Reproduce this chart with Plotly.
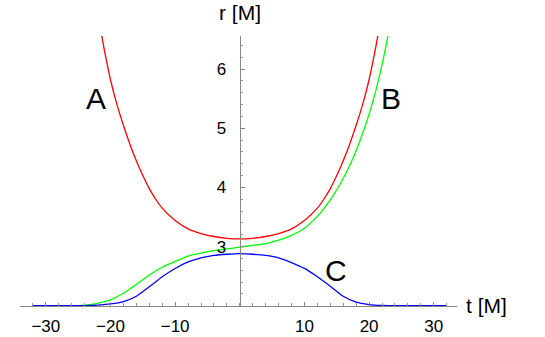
import plotly.graph_objects as go

# values
t_a = [-22, -21, -20, -19, -18, -17, -16, -15, -14, -13, -12, -10, -8, -6, -4, -2, 0,
       2, 4, 6, 8, 10, 12, 13, 14, 15, 16, 17, 18, 19, 20, 21, 22]
r_a = [6.95, 6.35, 5.82, 5.40, 5.05, 4.73, 4.45, 4.20, 3.98, 3.80, 3.65, 3.44, 3.30, 3.22, 3.17, 3.14, 3.13,
       3.14, 3.17, 3.22, 3.30, 3.44, 3.65, 3.80, 3.98, 4.20, 4.45, 4.73, 5.05, 5.40, 5.82, 6.35, 6.95]

t_b = [-32, -28, -26, -24, -22, -20, -18, -16, -14, -12, -10, -8, -6, -4, -2, 0,
       2, 4, 6, 8, 10, 12, 13, 14, 15, 16, 17, 18, 19, 20, 21, 22, 23]
r_b = [2.0, 2.0, 2.0, 2.01, 2.04, 2.10, 2.21, 2.36, 2.52, 2.65, 2.75, 2.84, 2.89, 2.93, 2.96, 2.99,
       3.02, 3.05, 3.11, 3.19, 3.31, 3.51, 3.64, 3.79, 3.96, 4.15, 4.37, 4.62, 4.91, 5.24, 5.62, 6.07, 6.60]

t_c = [-32, -28, -24, -22, -20, -18, -16, -14, -12, -10, -8, -6, -4, -2, 0,
       2, 4, 6, 8, 10, 12, 14, 16, 18, 20, 22, 24, 28, 32]
r_c = [2.0, 2.0, 2.0, 2.01, 2.03, 2.07, 2.16, 2.32, 2.49, 2.63, 2.74, 2.81, 2.85, 2.87, 2.88,
       2.87, 2.85, 2.81, 2.73, 2.63, 2.49, 2.33, 2.16, 2.06, 2.02, 2.005, 2.0, 2.0, 2.0]

x_ticks = [-30, -20, -10, 10, 20, 30]
x_labels = ["\u221230", "\u221220", "\u221210", "10", "20", "30"]
y_ticks = [3, 4, 5, 6]

font = "Liberation Sans, Arial, sans-serif"
x_range = [-34, 33.6]
y_range = [1.995, 6.56]

fig = go.Figure()
for t, r, col in [(t_a, r_a, "#ff0000"), (t_b, r_b, "#00ff00"), (t_c, r_c, "#0000ff")]:
    fig.add_trace(go.Scatter(x=t, y=r, mode="lines",
                             line=dict(color=col, width=1.3, shape="spline", smoothing=0.6),
                             showlegend=False, hoverinfo="skip"))

# curve labels
for txt, x, y in [("A", -22.2, 5.5), ("B", 23.4, 5.5), ("C", 14.9, 2.6)]:
    fig.add_annotation(x=x, y=y, text=txt, showarrow=False,
                       font=dict(family=font, size=30, color="black"))

fig.add_annotation(x=0, y=6.56, yref="y", xref="x", yanchor="bottom", yshift=10,
                   text="r [M]", showarrow=False, font=dict(family=font, size=21, color="black"))
fig.add_annotation(x=1, xref="paper", xanchor="left", xshift=7, y=2, yref="y",
                   text="t [M]", showarrow=False, font=dict(family=font, size=21, color="black"))

axis_pos = (0 - x_range[0]) / (x_range[1] - x_range[0])

fig.update_layout(
    width=545, height=337,
    margin=dict(l=20, r=88, t=36, b=31),
    plot_bgcolor="white", paper_bgcolor="white",
    font=dict(family=font, size=17, color="black"),
    xaxis=dict(range=x_range, showgrid=False, zeroline=False, automargin=False,
               showline=True, linecolor="#888888", linewidth=1.2,
               tickvals=x_ticks, ticktext=x_labels,
               ticks="inside", ticklen=4, tickcolor="#888888",
               ticklabelstandoff=4,
               minor=dict(dtick=2, tick0=0, ticks="inside", ticklen=2.5, tickcolor="#999999")),
    yaxis=dict(range=y_range, showgrid=False, zeroline=False, automargin=False,
               anchor="free", position=axis_pos,
               showline=True, linecolor="#888888", linewidth=1.2,
               tickvals=y_ticks, ticks="inside", ticklen=4, tickcolor="#888888",
               ticklabelstandoff=10,
               minor=dict(dtick=0.2, tick0=0, ticks="inside", ticklen=2.5, tickcolor="#999999")),
)

# drop the default page margin so the figure sits at the window corner
fig.write_html("out.html", config={"displayModeBar": False},
               post_script="document.body.style.margin='0';")
